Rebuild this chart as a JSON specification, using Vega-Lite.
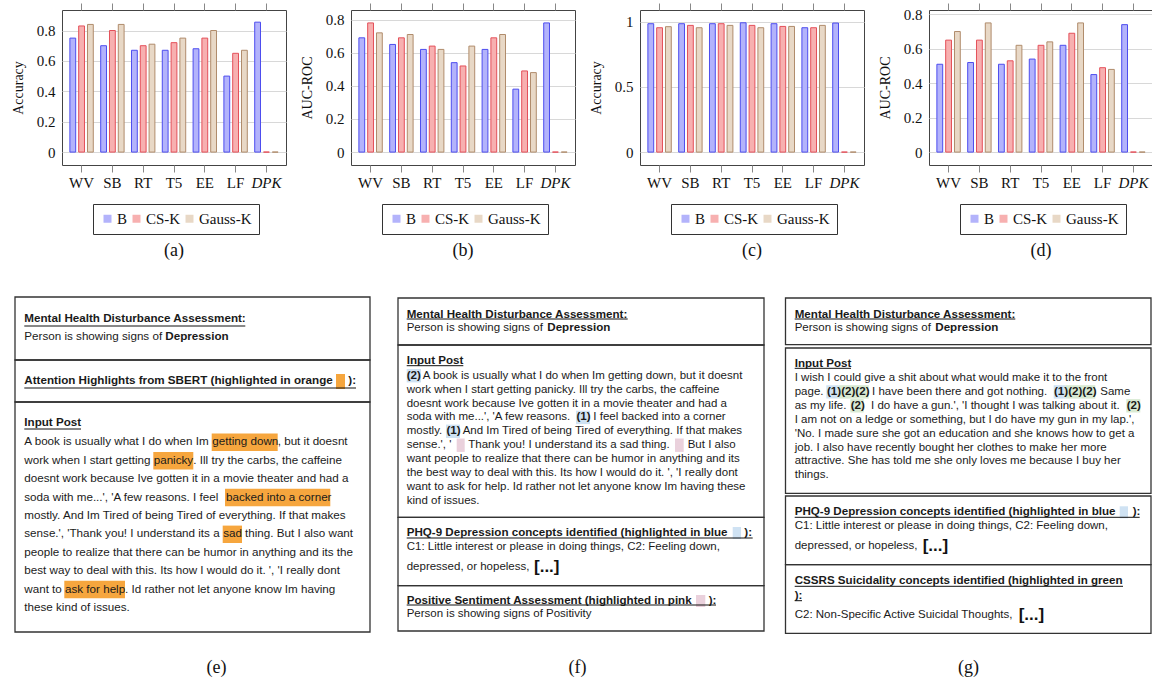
{
"$schema": "https://vega.github.io/schema/vega-lite/v6.json",
"padding": {"left": 10, "top": 2, "right": 0, "bottom": 0},
"background": "white",
"config": {
 "font": "Liberation Serif",
 "view": {"stroke": "#444", "strokeWidth": 1},
 "title": {"font": "Liberation Serif", "fontSize": 18, "fontWeight": "normal", "orient": "bottom", "color": "#111", "offset": 7},
 "axis": {"labelFont": "Liberation Serif", "titleFont": "Liberation Serif", "labelColor": "#111", "titleColor": "#111", "labelFontSize": 15, "titleFontSize": 14, "titleFontWeight": "normal"},
 "legend": {"orient": "none", "legendX": 31, "legendY": 194, "direction": "horizontal", "title": null, "strokeColor": "#333", "padding": 7, "symbolType": "square", "symbolSize": 64, "symbolStrokeWidth": 0, "labelFont": "Liberation Serif", "labelFontSize": 15, "labelColor": "#111", "labelOffset": 2, "columnPadding": 1}
},
"datasets": {
 "a": [
  {"model":"WV","method":"B","value":0.75},{"model":"WV","method":"CS-K","value":0.83},{"model":"WV","method":"Gauss-K","value":0.84},
  {"model":"SB","method":"B","value":0.70},{"model":"SB","method":"CS-K","value":0.80},{"model":"SB","method":"Gauss-K","value":0.84},
  {"model":"RT","method":"B","value":0.67},{"model":"RT","method":"CS-K","value":0.70},{"model":"RT","method":"Gauss-K","value":0.71},
  {"model":"T5","method":"B","value":0.67},{"model":"T5","method":"CS-K","value":0.72},{"model":"T5","method":"Gauss-K","value":0.75},
  {"model":"EE","method":"B","value":0.68},{"model":"EE","method":"CS-K","value":0.75},{"model":"EE","method":"Gauss-K","value":0.80},
  {"model":"LF","method":"B","value":0.50},{"model":"LF","method":"CS-K","value":0.65},{"model":"LF","method":"Gauss-K","value":0.67},
  {"model":"DPK","method":"B","value":0.855},{"model":"DPK","method":"CS-K","value":0},{"model":"DPK","method":"Gauss-K","value":0}
 ],
 "b": [
  {"model":"WV","method":"B","value":0.69},{"model":"WV","method":"CS-K","value":0.78},{"model":"WV","method":"Gauss-K","value":0.72},
  {"model":"SB","method":"B","value":0.65},{"model":"SB","method":"CS-K","value":0.69},{"model":"SB","method":"Gauss-K","value":0.71},
  {"model":"RT","method":"B","value":0.62},{"model":"RT","method":"CS-K","value":0.64},{"model":"RT","method":"Gauss-K","value":0.62},
  {"model":"T5","method":"B","value":0.54},{"model":"T5","method":"CS-K","value":0.52},{"model":"T5","method":"Gauss-K","value":0.64},
  {"model":"EE","method":"B","value":0.62},{"model":"EE","method":"CS-K","value":0.69},{"model":"EE","method":"Gauss-K","value":0.71},
  {"model":"LF","method":"B","value":0.38},{"model":"LF","method":"CS-K","value":0.49},{"model":"LF","method":"Gauss-K","value":0.48},
  {"model":"DPK","method":"B","value":0.78},{"model":"DPK","method":"CS-K","value":0},{"model":"DPK","method":"Gauss-K","value":0}
 ],
 "c": [
  {"model":"WV","method":"B","value":0.985},{"model":"WV","method":"CS-K","value":0.954},{"model":"WV","method":"Gauss-K","value":0.962},
  {"model":"SB","method":"B","value":0.985},{"model":"SB","method":"CS-K","value":0.972},{"model":"SB","method":"Gauss-K","value":0.954},
  {"model":"RT","method":"B","value":0.985},{"model":"RT","method":"CS-K","value":0.985},{"model":"RT","method":"Gauss-K","value":0.972},
  {"model":"T5","method":"B","value":0.992},{"model":"T5","method":"CS-K","value":0.972},{"model":"T5","method":"Gauss-K","value":0.954},
  {"model":"EE","method":"B","value":0.985},{"model":"EE","method":"CS-K","value":0.964},{"model":"EE","method":"Gauss-K","value":0.964},
  {"model":"LF","method":"B","value":0.954},{"model":"LF","method":"CS-K","value":0.954},{"model":"LF","method":"Gauss-K","value":0.972},
  {"model":"DPK","method":"B","value":0.99},{"model":"DPK","method":"CS-K","value":0},{"model":"DPK","method":"Gauss-K","value":0}
 ],
 "d": [
  {"model":"WV","method":"B","value":0.51},{"model":"WV","method":"CS-K","value":0.65},{"model":"WV","method":"Gauss-K","value":0.70},
  {"model":"SB","method":"B","value":0.52},{"model":"SB","method":"CS-K","value":0.65},{"model":"SB","method":"Gauss-K","value":0.75},
  {"model":"RT","method":"B","value":0.51},{"model":"RT","method":"CS-K","value":0.53},{"model":"RT","method":"Gauss-K","value":0.62},
  {"model":"T5","method":"B","value":0.54},{"model":"T5","method":"CS-K","value":0.62},{"model":"T5","method":"Gauss-K","value":0.64},
  {"model":"EE","method":"B","value":0.62},{"model":"EE","method":"CS-K","value":0.69},{"model":"EE","method":"Gauss-K","value":0.75},
  {"model":"LF","method":"B","value":0.45},{"model":"LF","method":"CS-K","value":0.49},{"model":"LF","method":"Gauss-K","value":0.48},
  {"model":"DPK","method":"B","value":0.74},{"model":"DPK","method":"CS-K","value":0},{"model":"DPK","method":"Gauss-K","value":0}
 ],
 "e": [
  {"k":"hl","c":"orange","x":274,"x2":283,"y":78,"y2":93},
  {"k":"hl","c":"orange","x":149.7,"x2":215.7,"y":137.6,"y2":155},
  {"k":"hl","c":"orange","x":91.3,"x2":131.3,"y":156,"y2":173.4},
  {"k":"hl","c":"orange","x":163,"x2":268.3,"y":192.8,"y2":210.2},
  {"k":"hl","c":"orange","x":160.7,"x2":180,"y":229.6,"y2":247},
  {"k":"hl","c":"orange","x":2.3,"x2":63,"y":284.8,"y2":302.2},
  {"k":"box","x":-47,"x2":308,"y":1,"y2":64},
  {"k":"box","x":-47,"x2":308,"y":64,"y2":106},
  {"k":"box","x":-47,"x2":308,"y":106,"y2":336},
  {"k":"ul","x":-37.7,"x2":183.3,"y":30},
  {"k":"ul","x":-37.7,"x2":294,"y":92},
  {"k":"ul","x":-37.7,"x2":19,"y":133},
  {"k":"b","x":-37.7,"y":23,"s":"Mental Health Disturbance Assessment:"},
  {"k":"t","x":-37.7,"y":41,"s":"Person is showing signs of"},
  {"k":"b","x":103.3,"y":41,"s":"Depression"},
  {"k":"b","x":-37.7,"y":85,"s":"Attention Highlights from SBERT (highlighted in orange"},
  {"k":"b","x":286.3,"y":85,"s":"):"},
  {"k":"b","x":-37.7,"y":127,"s":"Input Post"},
  {"k":"t","x":-37.7,"y":146.3,"s":"A book is usually what I do when Im"},
  {"k":"t","x":150.3,"y":146.3,"s":"getting down"},
  {"k":"t","x":215.7,"y":146.3,"s":", but it doesnt"},
  {"k":"t","x":-37.7,"y":164.7,"s":"work when I start getting"},
  {"k":"t","x":91.7,"y":164.7,"s":"panicky"},
  {"k":"t","x":131.3,"y":164.7,"s":". Ill try the carbs, the caffeine"},
  {"k":"t","x":-37.7,"y":183.1,"s":"doesnt work because Ive gotten it in a movie theater and had a"},
  {"k":"t","x":-37.7,"y":201.5,"s":"soda with me...', 'A few reasons. I  feel"},
  {"k":"t","x":164,"y":201.5,"s":"backed into a corner"},
  {"k":"t","x":-37.7,"y":219.9,"s":"mostly.  And Im Tired of being Tired of everything. If that makes"},
  {"k":"t","x":-37.7,"y":238.3,"s":"sense.', 'Thank you! I understand its a"},
  {"k":"t","x":161.3,"y":238.3,"s":"sad"},
  {"k":"t","x":183,"y":238.3,"s":"thing. But I also want"},
  {"k":"t","x":-37.7,"y":256.7,"s":"people to realize that there can be humor in anything and its the"},
  {"k":"t","x":-37.7,"y":275.1,"s":"best way to deal with this. Its how I would do it. ', 'I really dont"},
  {"k":"t","x":-37.7,"y":293.5,"s":"want to"},
  {"k":"t","x":3,"y":293.5,"s":"ask for help"},
  {"k":"t","x":63,"y":293.5,"s":". Id rather not let anyone know Im having"},
  {"k":"t","x":-37.7,"y":311.9,"s":"these kind of issues."}
 ],
 "f": [
  {"k":"hl","c":"blue","x":16.7,"x2":31,"y":73,"y2":86.4},
  {"k":"hl","c":"blue","x":186,"x2":200,"y":114.7,"y2":128.1},
  {"k":"hl","c":"blue","x":56,"x2":70,"y":128.6,"y2":142},
  {"k":"hl","c":"pink","x":66.7,"x2":74.7,"y":142.5,"y2":155.9},
  {"k":"hl","c":"pink","x":285,"x2":293.7,"y":142.5,"y2":155.9},
  {"k":"hl","c":"blue","x":342.7,"x2":351,"y":231,"y2":243},
  {"k":"hl","c":"pink","x":306,"x2":315.3,"y":299,"y2":311},
  {"k":"box","x":8,"x2":374,"y":2,"y2":49},
  {"k":"box","x":8,"x2":374,"y":49,"y2":221.3},
  {"k":"box","x":8,"x2":374,"y":221.3,"y2":289.7},
  {"k":"box","x":8,"x2":374,"y":289.7,"y2":335},
  {"k":"ul","x":16.7,"x2":237.7,"y":23},
  {"k":"ul","x":16.7,"x2":73.3,"y":69.7},
  {"k":"ul","x":16.7,"x2":362.7,"y":242},
  {"k":"ul","x":16.7,"x2":326,"y":309},
  {"k":"b","x":16.7,"y":18.7,"s":"Mental Health Disturbance Assessment:"},
  {"k":"t","x":16.7,"y":32,"s":"Person is showing signs of"},
  {"k":"b","x":157.3,"y":32,"s":"Depression"},
  {"k":"b","x":16.7,"y":65.3,"s":"Input Post"},
  {"k":"b","x":16.7,"y":79.7,"s":"(2)"},
  {"k":"t","x":32.7,"y":79.7,"s":"A book is usually what I do when Im getting down, but it doesnt"},
  {"k":"t","x":16.7,"y":93.6,"s":"work when I start getting panicky. Ill try the carbs, the caffeine"},
  {"k":"t","x":16.7,"y":107.5,"s":"doesnt work because Ive gotten it in a movie theater and had a"},
  {"k":"t","x":16.7,"y":121.4,"s":"soda with me...', 'A few reasons."},
  {"k":"b","x":186.5,"y":121.4,"s":"(1)"},
  {"k":"t","x":203.3,"y":121.4,"s":"I  feel backed into a corner"},
  {"k":"t","x":16.7,"y":135.3,"s":"mostly."},
  {"k":"b","x":56.5,"y":135.3,"s":"(1)"},
  {"k":"t","x":72.7,"y":135.3,"s":"And Im Tired of being Tired of everything. If that makes"},
  {"k":"t","x":16.7,"y":149.2,"s":"sense.', '"},
  {"k":"t","x":78.3,"y":149.2,"s":"Thank you! I understand its a sad thing."},
  {"k":"t","x":297.7,"y":149.2,"s":"But I also"},
  {"k":"t","x":16.7,"y":163.1,"s":"want people to realize that there can be humor in anything and its"},
  {"k":"t","x":16.7,"y":177,"s":"the best way to deal with this. Its how I would do it. ', 'I really dont"},
  {"k":"t","x":16.7,"y":190.9,"s":"want to ask for help. Id rather not let anyone know Im having these"},
  {"k":"t","x":16.7,"y":204.8,"s":"kind of issues."},
  {"k":"b","x":16.7,"y":237,"s":"PHQ-9 Depression concepts identified (highlighted in blue"},
  {"k":"b","x":354.3,"y":237,"s":"):"},
  {"k":"t","x":16.7,"y":250.7,"s":"C1: Little interest or please in doing things, C2: Feeling down,"},
  {"k":"t","x":16.7,"y":271.3,"s":"depressed, or hopeless,"},
  {"k":"br","x":144,"y":271.3,"s":"[...]"},
  {"k":"b","x":16.7,"y":304.7,"s":"Positive Sentiment Assessment (highlighted in pink"},
  {"k":"b","x":318.7,"y":304.7,"s":"):"},
  {"k":"t","x":16.7,"y":318,"s":"Person is showing signs of Positivity"}
 ],
 "g": [
  {"k":"hl","c":"blue","x":41.3,"x2":53.7,"y":89.2,"y2":102.6},
  {"k":"hl","c":"green","x":53.7,"x2":83.7,"y":89.2,"y2":102.6},
  {"k":"hl","c":"blue","x":268.7,"x2":280.3,"y":89.2,"y2":102.6},
  {"k":"hl","c":"green","x":280.3,"x2":310.3,"y":89.2,"y2":102.6},
  {"k":"hl","c":"green","x":65.3,"x2":78.7,"y":103.1,"y2":116.5},
  {"k":"hl","c":"green","x":341.3,"x2":355.3,"y":103.1,"y2":116.5},
  {"k":"hl","c":"blue","x":334.7,"x2":343,"y":210.3,"y2":222.3},
  {"k":"box","x":0.5,"x2":366,"y":2,"y2":48.7},
  {"k":"box","x":0.5,"x2":366,"y":52,"y2":197.3},
  {"k":"box","x":0.5,"x2":366,"y":200,"y2":268.7},
  {"k":"box","x":0.5,"x2":366,"y":268.7,"y2":337.3},
  {"k":"ul","x":9.7,"x2":230.3,"y":23},
  {"k":"ul","x":9.7,"x2":66,"y":72.3},
  {"k":"ul","x":9.7,"x2":354.7,"y":221.3},
  {"k":"ul","x":9.7,"x2":338,"y":290.3},
  {"k":"ul","x":9.7,"x2":17,"y":304.7},
  {"k":"b","x":9.7,"y":18.7,"s":"Mental Health Disturbance Assessment:"},
  {"k":"t","x":9.7,"y":32,"s":"Person is showing signs of"},
  {"k":"b","x":150.3,"y":32,"s":"Depression"},
  {"k":"b","x":9.7,"y":68,"s":"Input Post"},
  {"k":"t","x":9.7,"y":82,"s":"I wish I could give a shit about what would make it to the front"},
  {"k":"t","x":9.7,"y":95.9,"s":"page."},
  {"k":"b","x":42,"y":95.9,"s":"(1)(2)(2)"},
  {"k":"t","x":87,"y":95.9,"s":"I have been there and got nothing."},
  {"k":"b","x":269,"y":95.9,"s":"(1)(2)(2)"},
  {"k":"t","x":315.3,"y":95.9,"s":"Same"},
  {"k":"t","x":9.7,"y":109.8,"s":"as my life."},
  {"k":"b","x":65.7,"y":109.8,"s":"(2)"},
  {"k":"t","x":86,"y":109.8,"s":"I do have a gun.', 'I thought I was talking about it."},
  {"k":"b","x":341.7,"y":109.8,"s":"(2)"},
  {"k":"t","x":9.7,"y":123.7,"s":"I am not on a ledge or something, but I do have my gun in my lap.',"},
  {"k":"t","x":9.7,"y":137.6,"s":"'No. I made sure she got an education and she knows how to get a"},
  {"k":"t","x":9.7,"y":151.5,"s":"job. I also have recently bought her clothes to make her more"},
  {"k":"t","x":9.7,"y":165.4,"s":"attractive. She has told me she only loves me because I buy her"},
  {"k":"t","x":9.7,"y":179.3,"s":"things."},
  {"k":"b","x":9.7,"y":215.7,"s":"PHQ-9 Depression concepts identified (highlighted in blue"},
  {"k":"b","x":347.7,"y":215.7,"s":"):"},
  {"k":"t","x":9.7,"y":230.3,"s":"C1: Little interest or please in doing things, C2: Feeling down,"},
  {"k":"t","x":9.7,"y":250.3,"s":"depressed, or hopeless,"},
  {"k":"br","x":137.7,"y":250.3,"s":"[...]"},
  {"k":"b","x":9.7,"y":285.3,"s":"CSSRS Suicidality concepts identified (highlighted in green"},
  {"k":"b","x":9.7,"y":300.3,"s":"):"},
  {"k":"t","x":9.7,"y":318.7,"s":"C2: Non-Specific Active Suicidal Thoughts,"},
  {"k":"br","x":233.7,"y":318.7,"s":"[...]"}
 ]
},
"columns": 1,
"spacing": 36,
"align": "none",
"resolve": {"scale": {"fill": "independent", "stroke": "independent", "color": "independent"}, "legend": {"fill": "independent", "stroke": "independent", "color": "independent"}},
"concat": [
 {
  "spacing": 12,
  "resolve": {"scale": {"fill": "independent", "stroke": "independent"}, "legend": {"fill": "independent", "stroke": "independent"}},
  "hconcat": [
   {
    "width": 224, "height": 155,
    "data": {"name": "a"},
    "title": {"text": "(a)"},
    "layer": [
     {"mark": {"type": "bar", "strokeWidth": 1},
      "encoding": {
       "x": {"field": "model", "type": "nominal", "sort": ["WV","SB","RT","T5","EE","LF","DPK"], "scale": {"paddingInner": 0.24, "paddingOuter": 0.256}, "axis": {"orient": "bottom", "title": null, "labelAngle": 0, "tickSize": 7, "tickColor": "#888", "domain": false, "labelPadding": 3, "labelFontStyle": {"condition": {"test": "datum.value === 'DPK'", "value": "italic"}, "value": "normal"}}},
       "xOffset": {"field": "method", "type": "nominal", "sort": ["B","CS-K","Gauss-K"], "scale": {"paddingInner": 0.34, "paddingOuter": 0}},
       "y": {"field": "value", "type": "quantitative", "scale": {"domain": [-0.085, 0.935], "nice": false, "zero": false}, "axis": {"title": "Accuracy", "values": [0, 0.2, 0.4, 0.6, 0.8], "format": "~g", "domain": false, "ticks": false, "grid": true, "gridColor": "#d8d8d8", "labelPadding": 7, "minExtent": 33, "maxExtent": 33, "titlePadding": 4}},
       "y2": {"datum": 0},
       "fill": {"field": "method", "type": "nominal", "sort": ["B","CS-K","Gauss-K"], "scale": {"domain": ["B","CS-K","Gauss-K"], "range": ["#b3b3fb","#f7b0b0","#e8d8c6"]}, "legend": {}},
       "stroke": {"field": "method", "type": "nominal", "scale": {"domain": ["B","CS-K","Gauss-K"], "range": ["#4d4def","#e4505a","#b08c6c"]}, "legend": null}
      }},
     {"mark": {"type": "rule", "opacity": 0},
      "encoding": {"x": {"field": "model", "type": "nominal", "sort": ["WV","SB","RT","T5","EE","LF","DPK"], "axis": {"orient": "top", "labels": false, "title": null, "tickSize": 7, "tickColor": "#888", "domain": false, "grid": false}}}}
    ],
    "resolve": {"axis": {"x": "independent"}}
   },
   {
    "width": 224, "height": 155,
    "data": {"name": "b"},
    "title": {"text": "(b)"},
    "layer": [
     {"mark": {"type": "bar", "strokeWidth": 1},
      "encoding": {
       "x": {"field": "model", "type": "nominal", "sort": ["WV","SB","RT","T5","EE","LF","DPK"], "scale": {"paddingInner": 0.24, "paddingOuter": 0.256}, "axis": {"orient": "bottom", "title": null, "labelAngle": 0, "tickSize": 7, "tickColor": "#888", "domain": false, "labelPadding": 3, "labelFontStyle": {"condition": {"test": "datum.value === 'DPK'", "value": "italic"}, "value": "normal"}}},
       "xOffset": {"field": "method", "type": "nominal", "sort": ["B","CS-K","Gauss-K"], "scale": {"paddingInner": 0.34, "paddingOuter": 0}},
       "y": {"field": "value", "type": "quantitative", "scale": {"domain": [-0.078, 0.858], "nice": false, "zero": false}, "axis": {"title": "AUC-ROC", "values": [0, 0.2, 0.4, 0.6, 0.8], "format": "~g", "domain": false, "ticks": false, "grid": true, "gridColor": "#d8d8d8", "labelPadding": 7, "minExtent": 33, "maxExtent": 33, "titlePadding": 4}},
       "y2": {"datum": 0},
       "fill": {"field": "method", "type": "nominal", "sort": ["B","CS-K","Gauss-K"], "scale": {"domain": ["B","CS-K","Gauss-K"], "range": ["#b3b3fb","#f7b0b0","#e8d8c6"]}, "legend": {}},
       "stroke": {"field": "method", "type": "nominal", "scale": {"domain": ["B","CS-K","Gauss-K"], "range": ["#4d4def","#e4505a","#b08c6c"]}, "legend": null}
      }},
     {"mark": {"type": "rule", "opacity": 0},
      "encoding": {"x": {"field": "model", "type": "nominal", "sort": ["WV","SB","RT","T5","EE","LF","DPK"], "axis": {"orient": "top", "labels": false, "title": null, "tickSize": 7, "tickColor": "#888", "domain": false, "grid": false}}}}
    ],
    "resolve": {"axis": {"x": "independent"}}
   },
   {
    "width": 224, "height": 155,
    "data": {"name": "c"},
    "title": {"text": "(c)"},
    "layer": [
     {"mark": {"type": "bar", "strokeWidth": 1},
      "encoding": {
       "x": {"field": "model", "type": "nominal", "sort": ["WV","SB","RT","T5","EE","LF","DPK"], "scale": {"paddingInner": 0.24, "paddingOuter": 0.256}, "axis": {"orient": "bottom", "title": null, "labelAngle": 0, "tickSize": 7, "tickColor": "#888", "domain": false, "labelPadding": 3, "labelFontStyle": {"condition": {"test": "datum.value === 'DPK'", "value": "italic"}, "value": "normal"}}},
       "xOffset": {"field": "method", "type": "nominal", "sort": ["B","CS-K","Gauss-K"], "scale": {"paddingInner": 0.34, "paddingOuter": 0}},
       "y": {"field": "value", "type": "quantitative", "scale": {"domain": [-0.099, 1.09], "nice": false, "zero": false}, "axis": {"title": "Accuracy", "values": [0, 0.5, 1], "format": "~g", "domain": false, "ticks": false, "grid": true, "gridColor": "#d8d8d8", "labelPadding": 7, "minExtent": 33, "maxExtent": 33, "titlePadding": 4}},
       "y2": {"datum": 0},
       "fill": {"field": "method", "type": "nominal", "sort": ["B","CS-K","Gauss-K"], "scale": {"domain": ["B","CS-K","Gauss-K"], "range": ["#b3b3fb","#f7b0b0","#e8d8c6"]}, "legend": {}},
       "stroke": {"field": "method", "type": "nominal", "scale": {"domain": ["B","CS-K","Gauss-K"], "range": ["#4d4def","#e4505a","#b08c6c"]}, "legend": null}
      }},
     {"mark": {"type": "rule", "opacity": 0},
      "encoding": {"x": {"field": "model", "type": "nominal", "sort": ["WV","SB","RT","T5","EE","LF","DPK"], "axis": {"orient": "top", "labels": false, "title": null, "tickSize": 7, "tickColor": "#888", "domain": false, "grid": false}}}}
    ],
    "resolve": {"axis": {"x": "independent"}}
   },
   {
    "width": 224, "height": 155,
    "data": {"name": "d"},
    "title": {"text": "(d)"},
    "layer": [
     {"mark": {"type": "bar", "strokeWidth": 1},
      "encoding": {
       "x": {"field": "model", "type": "nominal", "sort": ["WV","SB","RT","T5","EE","LF","DPK"], "scale": {"paddingInner": 0.24, "paddingOuter": 0.256}, "axis": {"orient": "bottom", "title": null, "labelAngle": 0, "tickSize": 7, "tickColor": "#888", "domain": false, "labelPadding": 3, "labelFontStyle": {"condition": {"test": "datum.value === 'DPK'", "value": "italic"}, "value": "normal"}}},
       "xOffset": {"field": "method", "type": "nominal", "sort": ["B","CS-K","Gauss-K"], "scale": {"paddingInner": 0.34, "paddingOuter": 0}},
       "y": {"field": "value", "type": "quantitative", "scale": {"domain": [-0.075, 0.825], "nice": false, "zero": false}, "axis": {"title": "AUC-ROC", "values": [0, 0.2, 0.4, 0.6, 0.8], "format": "~g", "domain": false, "ticks": false, "grid": true, "gridColor": "#d8d8d8", "labelPadding": 7, "minExtent": 33, "maxExtent": 33, "titlePadding": 4}},
       "y2": {"datum": 0},
       "fill": {"field": "method", "type": "nominal", "sort": ["B","CS-K","Gauss-K"], "scale": {"domain": ["B","CS-K","Gauss-K"], "range": ["#b3b3fb","#f7b0b0","#e8d8c6"]}, "legend": {}},
       "stroke": {"field": "method", "type": "nominal", "scale": {"domain": ["B","CS-K","Gauss-K"], "range": ["#4d4def","#e4505a","#b08c6c"]}, "legend": null}
      }},
     {"mark": {"type": "rule", "opacity": 0},
      "encoding": {"x": {"field": "model", "type": "nominal", "sort": ["WV","SB","RT","T5","EE","LF","DPK"], "axis": {"orient": "top", "labels": false, "title": null, "tickSize": 7, "tickColor": "#888", "domain": false, "grid": false}}}}
    ],
    "resolve": {"axis": {"x": "independent"}}
   }
  ]
 },
 {
  "spacing": 19,
  "hconcat": [
   {
    "width": 309, "height": 338,
    "view": {"stroke": null},
    "data": {"name": "e"},
    "title": {"text": "(e)", "offset": 25},
    "encoding": {
     "x": {"field": "x", "type": "quantitative", "scale": {"domain": [0, 309], "nice": false, "zero": false}, "axis": null},
     "y": {"field": "y", "type": "quantitative", "scale": {"domain": [0, 338], "reverse": true, "nice": false, "zero": false}, "axis": null}
    },
    "layer": [
     {"transform": [{"filter": "datum.k === 'hl'"}], "mark": {"type": "rect"}, "encoding": {"x2": {"field": "x2"}, "y2": {"field": "y2"}, "color": {"field": "c", "type": "nominal", "scale": {"domain": ["orange","blue","green","pink"], "range": ["#f6a63e","#cfe2f3","#d9ead3","#ead1dc"]}, "legend": null}}},
     {"transform": [{"filter": "datum.k === 'box'"}], "mark": {"type": "rect", "filled": false, "color": "#333", "strokeWidth": 1.3}, "encoding": {"x2": {"field": "x2"}, "y2": {"field": "y2"}}},
     {"transform": [{"filter": "datum.k === 'ul'"}], "mark": {"type": "rule", "color": "#111", "strokeWidth": 1}, "encoding": {"x2": {"field": "x2"}}},
     {"transform": [{"filter": "datum.k === 't'"}], "mark": {"type": "text", "align": "left", "baseline": "middle", "font": "Liberation Sans", "fontSize": 11.65, "color": "#1a1a1a"}, "encoding": {"text": {"field": "s"}}},
     {"transform": [{"filter": "datum.k === 'b'"}], "mark": {"type": "text", "align": "left", "baseline": "middle", "font": "Liberation Sans", "fontSize": 11.65, "fontWeight": "bold", "color": "#1a1a1a"}, "encoding": {"text": {"field": "s"}}}
    ]
   },
   {
    "width": 375, "height": 338,
    "view": {"stroke": null},
    "data": {"name": "f"},
    "title": {"text": "(f)", "offset": 25},
    "encoding": {
     "x": {"field": "x", "type": "quantitative", "scale": {"domain": [0, 375], "nice": false, "zero": false}, "axis": null},
     "y": {"field": "y", "type": "quantitative", "scale": {"domain": [0, 338], "reverse": true, "nice": false, "zero": false}, "axis": null}
    },
    "layer": [
     {"transform": [{"filter": "datum.k === 'hl'"}], "mark": {"type": "rect"}, "encoding": {"x2": {"field": "x2"}, "y2": {"field": "y2"}, "color": {"field": "c", "type": "nominal", "scale": {"domain": ["orange","blue","green","pink"], "range": ["#f6a63e","#cfe2f3","#d9ead3","#ead1dc"]}, "legend": null}}},
     {"transform": [{"filter": "datum.k === 'box'"}], "mark": {"type": "rect", "filled": false, "color": "#333", "strokeWidth": 1.3}, "encoding": {"x2": {"field": "x2"}, "y2": {"field": "y2"}}},
     {"transform": [{"filter": "datum.k === 'ul'"}], "mark": {"type": "rule", "color": "#111", "strokeWidth": 1}, "encoding": {"x2": {"field": "x2"}}},
     {"transform": [{"filter": "datum.k === 't'"}], "mark": {"type": "text", "align": "left", "baseline": "middle", "font": "Liberation Sans", "fontSize": 11.5, "color": "#1a1a1a"}, "encoding": {"text": {"field": "s"}}},
     {"transform": [{"filter": "datum.k === 'b'"}], "mark": {"type": "text", "align": "left", "baseline": "middle", "font": "Liberation Sans", "fontSize": 11.6, "fontWeight": "bold", "color": "#1a1a1a"}, "encoding": {"text": {"field": "s"}}},
     {"transform": [{"filter": "datum.k === 'br'"}], "mark": {"type": "text", "align": "left", "baseline": "middle", "font": "Liberation Sans", "fontSize": 17, "fontWeight": "bold", "color": "#111"}, "encoding": {"text": {"field": "s"}}}
    ]
   },
   {
    "width": 367, "height": 338,
    "view": {"stroke": null},
    "data": {"name": "g"},
    "title": {"text": "(g)", "offset": 25},
    "encoding": {
     "x": {"field": "x", "type": "quantitative", "scale": {"domain": [0, 367], "nice": false, "zero": false}, "axis": null},
     "y": {"field": "y", "type": "quantitative", "scale": {"domain": [0, 338], "reverse": true, "nice": false, "zero": false}, "axis": null}
    },
    "layer": [
     {"transform": [{"filter": "datum.k === 'hl'"}], "mark": {"type": "rect"}, "encoding": {"x2": {"field": "x2"}, "y2": {"field": "y2"}, "color": {"field": "c", "type": "nominal", "scale": {"domain": ["orange","blue","green","pink"], "range": ["#f6a63e","#cfe2f3","#d9ead3","#ead1dc"]}, "legend": null}}},
     {"transform": [{"filter": "datum.k === 'box'"}], "mark": {"type": "rect", "filled": false, "color": "#333", "strokeWidth": 1.3}, "encoding": {"x2": {"field": "x2"}, "y2": {"field": "y2"}}},
     {"transform": [{"filter": "datum.k === 'ul'"}], "mark": {"type": "rule", "color": "#111", "strokeWidth": 1}, "encoding": {"x2": {"field": "x2"}}},
     {"transform": [{"filter": "datum.k === 't'"}], "mark": {"type": "text", "align": "left", "baseline": "middle", "font": "Liberation Sans", "fontSize": 11.5, "color": "#1a1a1a"}, "encoding": {"text": {"field": "s"}}},
     {"transform": [{"filter": "datum.k === 'b'"}], "mark": {"type": "text", "align": "left", "baseline": "middle", "font": "Liberation Sans", "fontSize": 11.6, "fontWeight": "bold", "color": "#1a1a1a"}, "encoding": {"text": {"field": "s"}}},
     {"transform": [{"filter": "datum.k === 'br'"}], "mark": {"type": "text", "align": "left", "baseline": "middle", "font": "Liberation Sans", "fontSize": 17, "fontWeight": "bold", "color": "#111"}, "encoding": {"text": {"field": "s"}}}
    ]
   }
  ]
 }
]
}
